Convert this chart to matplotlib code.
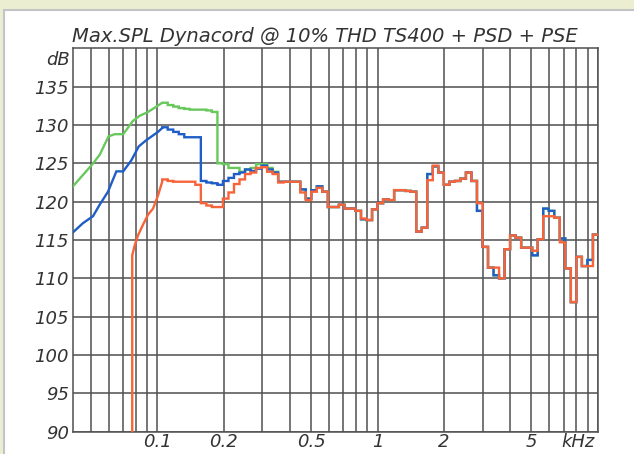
import numpy as np
import matplotlib
matplotlib.use("Agg")
import matplotlib.pyplot as plt
from matplotlib.patches import Rectangle
import matplotlib.transforms as mtransforms

# ---------------- data ----------------
# Low-frequency part (continuous line), frequency in kHz
green_lf_f = [0.04135, 0.0507, 0.05465, 0.05993, 0.06393, 0.06992, 0.07722, 0.08308, 0.09064, 0.09897, 0.10511]
green_lf_db = [122.0, 124.9, 126.1, 128.5, 128.8, 128.8, 130.5, 131.2, 131.7, 132.4, 132.9]

blue_lf_f = [0.04135, 0.0459, 0.05096, 0.05465, 0.05963, 0.06508, 0.06992, 0.07617, 0.08222, 0.08884, 0.0955, 0.1006, 0.10511]
blue_lf_db = [116.0, 117.2, 118.1, 119.6, 121.3, 123.95, 123.95, 125.4, 127.2, 128.0, 128.65, 129.1, 129.6]

orange_lf_f = [0.07682, 0.07682, 0.07885, 0.08162, 0.08601, 0.09064, 0.0955, 0.1006, 0.10511]
orange_lf_db = [85.0, 113.0, 114.3, 115.6, 117.0, 118.3, 119.1, 120.8, 122.6]

# 1/12-octave bands: band k spans 2**(k/12) .. 2**((k+1)/12) kHz, k = -39 .. 39
band_k = np.arange(-39, 40)

orange_band_db = [
    122.9, 122.7, 122.6, 122.6, 122.6, 122.6, 122.2, 119.8, 119.5, 119.3,   # -39..-30
    119.3, 120.4, 121.2, 122.3, 122.9, 123.6, 123.8, 124.4, 124.5, 123.9,   # -29..-20
    123.6, 122.5, 122.6, 122.6, 122.6, 121.2, 120.2, 121.3, 121.8, 121.3,   # -19..-10
    119.3, 119.3, 119.6, 119.1, 119.1, 118.8, 117.8, 117.6, 119.0, 119.8,   # -9..0
    120.3, 120.2, 121.5, 121.5, 121.4, 121.3, 116.1, 116.6, 122.8, 124.7,   # 1..10
    123.8, 122.2, 122.6, 122.7, 123.0, 123.8, 122.7, 119.8, 114.1, 111.4,   # 11..20
    111.4, 110.0, 113.8, 115.6, 115.3, 114.0, 114.0, 113.6, 115.1, 118.1,   # 21..30
    118.1, 117.9, 114.7, 111.3, 106.9, 112.8, 111.6, 111.6, 115.7,          # 31..39
]

blue_band_db = [
    129.7, 129.4, 129.1, 128.8, 128.4, 128.4, 128.4, 122.7, 122.5, 122.4,   # -39..-30
    122.2, 122.7, 123.1, 123.6, 123.8, 124.2, 124.0, 124.3, 124.7, 124.2,   # -29..-20
    123.8, 122.6, 122.6, 122.6, 122.6, 121.6, 120.4, 121.5, 122.0, 121.3,   # -19..-10
    119.3, 119.3, 119.6, 119.1, 119.1, 118.8, 117.7, 117.6, 119.0, 119.8,   # -9..0
    120.3, 120.2, 121.5, 121.5, 121.4, 121.3, 116.1, 116.6, 123.6, 124.6,   # 1..10
    123.8, 122.2, 122.6, 122.7, 123.0, 123.8, 122.7, 118.8, 114.1, 111.4,   # 11..20
    110.4, 110.0, 113.8, 115.6, 115.3, 114.0, 114.0, 113.0, 115.1, 119.1,   # 21..30
    118.8, 117.9, 115.2, 111.3, 106.9, 112.8, 111.6, 112.4, 115.7,          # 31..39
]

green_band_db = [
    132.9, 132.6, 132.4, 132.2, 132.1, 132.0, 132.0, 132.0, 131.9, 131.7,   # -39..-30
    125.0, 124.9, 124.4, 124.4, 123.9, 124.2, 124.4, 124.9, 124.9, 124.4,   # -29..-20
    123.9, 122.6, 122.6, 122.6, 122.6, 121.6, 120.4, 121.5, 122.0, 121.3,   # -19..-10
    119.3, 119.3, 119.6, 119.1, 119.1, 118.8, 117.7, 117.6, 119.0, 119.8,   # -9..0
    120.3, 120.2, 121.5, 121.5, 121.4, 121.3, 116.1, 116.6, 123.6, 124.6,   # 1..10
    123.8, 122.2, 122.6, 122.7, 123.0, 123.8, 122.7, 118.8, 114.1, 111.4,   # 11..20
    110.4, 110.0, 113.8, 115.6, 115.3, 114.0, 114.0, 113.0, 115.1, 119.1,   # 21..30
    118.8, 117.9, 115.2, 111.3, 106.9, 112.8, 111.6, 112.4, 115.7,          # 31..39
]

x_ticks = [0.1, 0.2, 0.5, 1, 2, 5]
x_tick_labels = ["0.1", "0.2", "0.5", "1", "2", "5"]
x_minor = [0.05, 0.06, 0.07, 0.08, 0.09, 0.3, 0.4, 0.6, 0.7, 0.8, 0.9,
           3, 4, 6, 7, 8, 9, 10]
y_ticks = [90, 95, 100, 105, 110, 115, 120, 125, 130, 135]

title = "Max.SPL Dynacord @ 10% THD TS400 + PSD + PSE"


def build_path(lf_f, lf_db, band_db):
    xs = list(lf_f)
    ys = list(lf_db)
    edges = 2.0 ** (np.arange(band_k[0], band_k[-1] + 2) / 12.0)
    for i, v in enumerate(band_db):
        xs += [edges[i], edges[i + 1]]
        ys += [v, v]
    return xs, ys


# ---------------- figure ----------------
W, H = 634, 454
fig = plt.figure(figsize=(W / 100, H / 100), dpi=100)
fig.patch.set_facecolor("#ECEED2")
fig.patches.append(Rectangle((4 / W, -0.05), 1.2, 1.05 - 10 / H,
                             transform=fig.transFigure, facecolor="white",
                             edgecolor="#c4c4c4", lw=1.5, zorder=-5))

left, right = 73 / W, 597.7 / W
bottom, top = (H - 431.7) / H, (H - 48.3) / H
ax = fig.add_axes([left, bottom, right - left, top - bottom])
ax.set_zorder(2)
ax.set_facecolor("white")
ax.set_xscale("log")
ax.set_xlim(0.04135, 10)
ax.set_ylim(90, 140)

grid_c = "#505050"
ax.set_xticks(x_ticks)
ax.set_xticklabels(x_tick_labels)
ax.set_xticks(x_minor, minor=True)
ax.set_xticklabels([], minor=True)
ax.set_yticks(y_ticks)
ax.set_yticklabels([str(v) for v in y_ticks])
ax.grid(True, which="both", axis="x", color=grid_c, lw=1.1)
ax.grid(True, which="major", axis="y", color=grid_c, lw=1.1)
ax.tick_params(which="both", length=0)
ax.tick_params(axis="y", pad=3)
ax.tick_params(axis="x", pad=1)
for s in ax.spines.values():
    s.set_color(grid_c)
    s.set_linewidth(1.1)

txt_c = "#333333"
lab_font = dict(fontsize=13, fontstyle="italic", color=txt_c)
for t in ax.get_xticklabels() + ax.get_yticklabels():
    t.set_fontsize(13)
    t.set_fontstyle("italic")
    t.set_color(txt_c)

# series
for lf_f, lf_db, band, col in [
    (green_lf_f, green_lf_db, green_band_db, "#68C85C"),
    (blue_lf_f, blue_lf_db, blue_band_db, "#1E5EC6"),
    (orange_lf_f, orange_lf_db, orange_band_db, "#F7643A"),
]:
    xs, ys = build_path(lf_f, lf_db, band)
    ax.plot(xs, ys, color=col, lw=1.7, solid_joinstyle="miter", zorder=3)

# axis unit labels
ytrans = mtransforms.blended_transform_factory(ax.transAxes, ax.transData)
ax.text(-3 / (right - left) / W, 138.5, "dB", transform=ytrans,
        ha="right", va="center", **lab_font)
ax.text(0.995, -1.0 / ((top - bottom) * H), "kHz", transform=ax.transAxes,
        ha="right", va="top", **lab_font)

fig.text(324.5 / W, 1 - 36.5 / H, title, ha="center", va="center",
         fontsize=14, fontstyle="italic", color=txt_c)

fig.savefig("out.png", dpi=100, facecolor=fig.get_facecolor())
